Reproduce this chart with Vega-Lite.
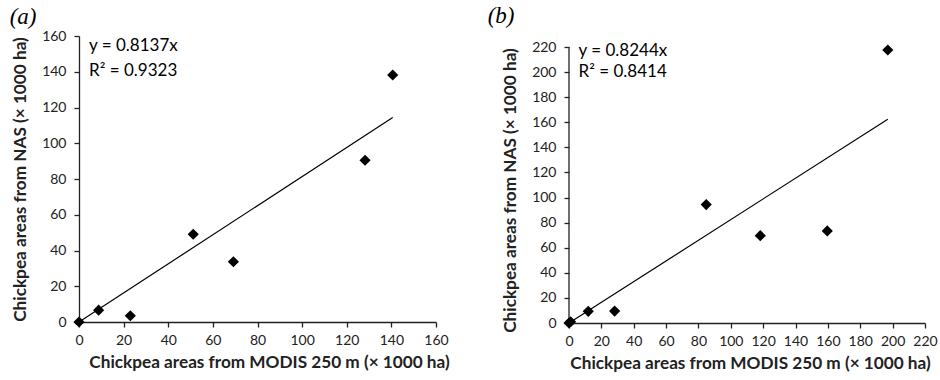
{
  "$schema": "https://vega.github.io/schema/vega-lite/v6.json",
  "background": "white",
  "padding": {"left": 9, "top": 5, "right": 0, "bottom": 5},
  "spacing": 37,
  "config": {
    "view": {"stroke": null},
    "font": "Lato",
    "axis": {
      "grid": false,
      "domainColor": "#222",
      "domainWidth": 1.3,
      "tickColor": "#222",
      "tickWidth": 1.3,
      "tickSize": 5,
      "labelColor": "#222",
      "labelFont": "Lato",
      "labelFontSize": 14,
      "labelPadding": 6,
      "labelOverlap": false,
      "labelFlush": false,
      "titleColor": "#222",
      "titleFont": "Lato",
      "titleFontSize": 17.2,
      "titleFontWeight": "bold"
    },
    "axisY": {"labelPadding": 8, "titlePadding": 12},
    "axisX": {"titlePadding": 6}
  },
  "datasets": {
    "pa": [
      {"modis": 0, "nas": 0},
      {"modis": 8.8, "nas": 6.6},
      {"modis": 23, "nas": 3.5},
      {"modis": 51.2, "nas": 49.1},
      {"modis": 69.2, "nas": 33.7},
      {"modis": 128.2, "nas": 90.5},
      {"modis": 140.6, "nas": 138.2}
    ],
    "pb": [
      {"modis": 0, "nas": 0},
      {"modis": 1, "nas": 1},
      {"modis": 11.9, "nas": 9.3},
      {"modis": 28.2, "nas": 9.5},
      {"modis": 84.8, "nas": 94.4},
      {"modis": 118.2, "nas": 69.6},
      {"modis": 159.6, "nas": 73.4},
      {"modis": 197, "nas": 217.6}
    ],
    "la": [{"modis": 0, "nas": 0}, {"modis": 140.6, "nas": 114.4}],
    "lb": [{"modis": 0, "nas": 0}, {"modis": 197, "nas": 162.4}],
    "axb": [{"modis": 0, "nas": 0, "nas2": 220}],
    "ta": [
      {"modis": 4.5, "nas": 154.3, "t": "y = 0.8137x"},
      {"modis": 4.5, "nas": 140.2, "t": "R² = 0.9323"}
    ],
    "tb": [
      {"modis": 5.9, "nas": 217, "t": "y = 0.8244x"},
      {"modis": 5.9, "nas": 199.8, "t": "R² = 0.8414"}
    ]
  },
  "hconcat": [
    {
      "width": 357,
      "height": 286,
      "title": {"text": "(a)", "font": "Liberation Serif", "fontStyle": "italic", "fontWeight": "normal", "fontSize": 23, "anchor": "start", "offset": 0, "dx": -2, "color": "black"},
      "encoding": {
        "x": {"field": "modis", "type": "quantitative", "scale": {"domain": [0, 160], "nice": false, "zero": true},
              "axis": {"values": [0, 20, 40, 60, 80, 100, 120, 140, 160], "titleX": 190, "title": "Chickpea areas from MODIS 250 m (× 1000 ha)"}},
        "y": {"field": "nas", "type": "quantitative", "scale": {"domain": [0, 160], "nice": false},
              "axis": {"values": [0, 20, 40, 60, 80, 100, 120, 140, 160], "title": "Chickpea areas from NAS (× 1000 ha)"}}
      },
      "layer": [
        {"data": {"name": "la"}, "mark": {"type": "line", "color": "black", "strokeWidth": 1.2}},
        {"data": {"name": "pa"}, "mark": {"type": "point", "shape": "diamond", "filled": true, "color": "black", "opacity": 1, "size": 125}},
        {"data": {"name": "ta"}, "mark": {"type": "text", "align": "left", "baseline": "middle", "fontSize": 17, "font": "Lato", "color": "black"},
         "encoding": {"text": {"field": "t"}}}
      ]
    },
    {
      "width": 356,
      "height": 287,
      "title": {"text": "(b)", "font": "Liberation Serif", "fontStyle": "italic", "fontWeight": "normal", "fontSize": 23, "anchor": "start", "offset": 8, "dx": -14, "color": "black"},
      "encoding": {
        "x": {"field": "modis", "type": "quantitative", "scale": {"domain": [0, 220], "nice": false},
              "axis": {"values": [0, 20, 40, 60, 80, 100, 120, 140, 160, 180, 200, 220], "titleX": 181, "title": "Chickpea areas from MODIS 250 m (× 1000 ha)"}},
        "y": {"field": "nas", "type": "quantitative", "scale": {"domain": [0, 228.77], "nice": false},
              "axis": {"values": [0, 20, 40, 60, 80, 100, 120, 140, 160, 180, 200, 220], "domain": false, "titleY": 154, "title": "Chickpea areas from NAS (× 1000 ha)"}}
      },
      "layer": [
        {"data": {"name": "axb"}, "mark": {"type": "rule", "color": "#222", "strokeWidth": 1.3},
         "encoding": {"y2": {"field": "nas2"}}},
        {"data": {"name": "lb"}, "mark": {"type": "line", "color": "black", "strokeWidth": 1.2}},
        {"data": {"name": "pb"}, "mark": {"type": "point", "shape": "diamond", "filled": true, "color": "black", "opacity": 1, "size": 125}},
        {"data": {"name": "tb"}, "mark": {"type": "text", "align": "left", "baseline": "middle", "fontSize": 17, "font": "Lato", "color": "black"},
         "encoding": {"text": {"field": "t"}}}
      ]
    }
  ]
}
